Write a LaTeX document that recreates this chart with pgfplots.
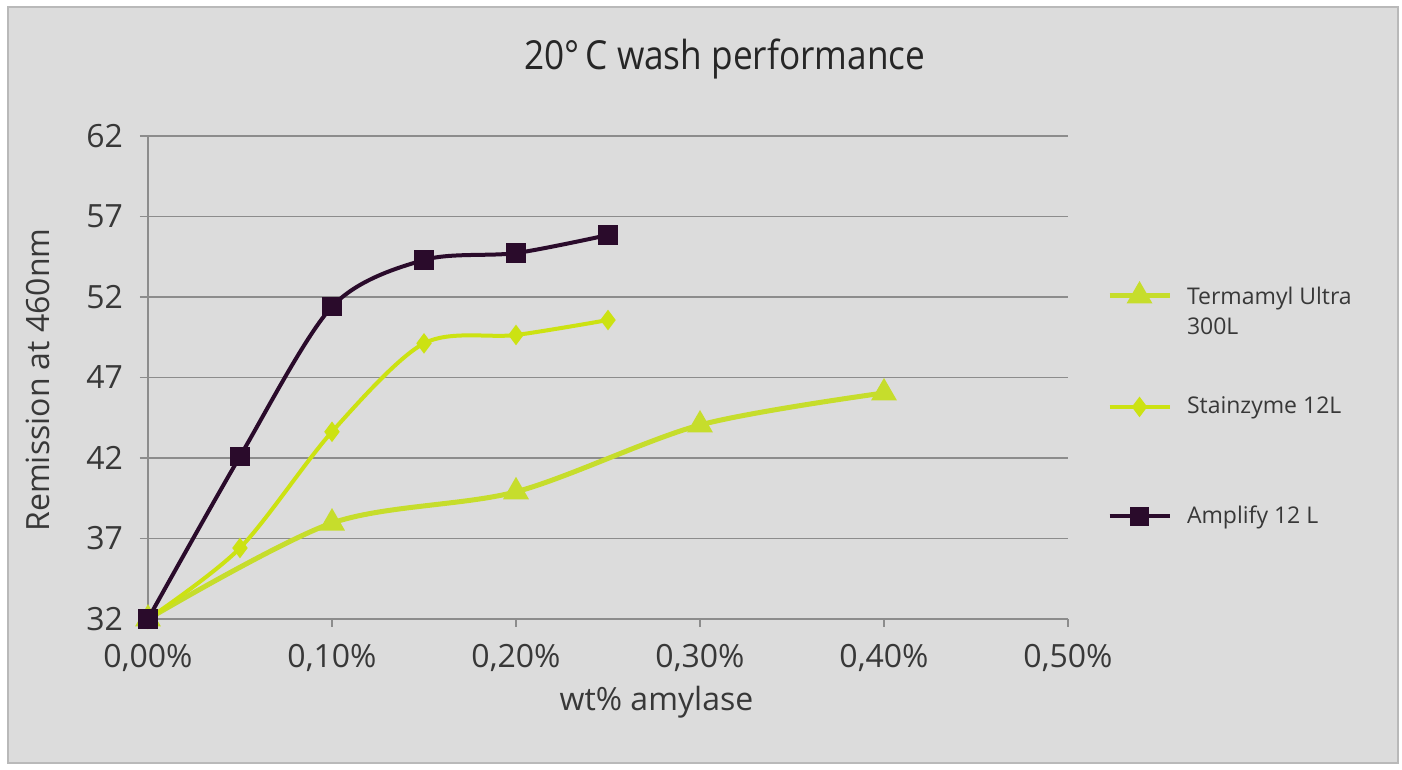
\documentclass[border=0pt]{standalone}
\usepackage{fontspec}
\setmainfont{Open Sans}
\usepackage{graphicx}
\usepackage{pgfplots}
\pgfplotsset{compat=1.18}
\definecolor{bg}{HTML}{DCDCDC}
\definecolor{gridc}{HTML}{8C8C8C}
\definecolor{txt}{HTML}{383838}
\definecolor{termc}{HTML}{C6DD2C}
\definecolor{stainc}{HTML}{CCE212}
\definecolor{amplc}{HTML}{2A0B2B}
\begin{document}
\begin{tikzpicture}
\fill[white] (-74pt,-75.5pt) rectangle (627pt,309.5pt);
\draw[fill=bg, draw=gray!55, line width=0.8pt] (-70pt,-72pt) rectangle (625pt,306pt);
\begin{axis}[
  at={(0pt,0pt)}, anchor=south west,
  scale only axis, width=460pt, height=241.5pt,
  xmin=0, xmax=0.5, ymin=32, ymax=62,
  xtick={0,0.1,0.2,0.3,0.4,0.5},
  xticklabels={{0,00\%},{0,10\%},{0,20\%},{0,30\%},{0,40\%},{0,50\%}},
  ytick={32,37,42,47,52,57,62},
  axis x line=bottom, axis y line=left,
  axis line style={-, gridc, line width=0.8pt},
  ymajorgrids, grid style={gridc, line width=0.8pt},
  tick align=outside, major tick length=4pt,
  tick style={gridc, line width=0.8pt},
  xtick pos=bottom, ytick pos=left,
  /pgf/number format/assume math mode=true,
  ticklabel style={font=\fontsize{16}{19}\selectfont, text=txt},
  xticklabel shift=5pt, yticklabel shift=5pt,
  label style={font=\fontsize{16}{19}\selectfont, text=txt},
  xlabel={wt\% amylase},
  xlabel style={at={(axis description cs:0.5527,0)}, anchor=base, yshift=-45.5pt},
  ylabel={Remission at 460nm},
  ylabel style={at={(axis description cs:0,0.495)}, anchor=base, yshift=49pt},
  title={\scalebox{0.88}[1]{\fontsize{20}{24}\selectfont 20°\,C wash performance}},
  title style={at={(axis description cs:0.627,1)}, anchor=base, yshift=27pt, text=black!85},
  legend cell align=left,
  legend style={draw=none, fill=none, at={(1.0424,0.6936)}, anchor=north west,
    inner sep=0pt, outer sep=0pt, row sep=44.5pt,
    font=\fontsize{11.5}{15}\selectfont, text=txt,
    nodes={inner sep=0pt},
    /tikz/every odd column/.append style={column sep=7.5pt}},
  legend image code/.code={\draw[mark repeat=2,mark phase=2] plot coordinates {(0pt,0pt)(15pt,0pt)(30pt,0pt)};},
]
\addplot[color=termc, line width=2.5pt, smooth, mark=triangle*, mark size=5pt, mark options={solid}]
  coordinates {(0,32.0)(0.1,37.96)(0.2,39.9)(0.3,44.05)(0.4,46.04)};
\addlegendentry{\begin{tabular}[t]{@{}l@{}}Termamyl Ultra\\300L\end{tabular}}
\addplot[color=stainc, line width=2pt, smooth, mark=diamond*, mark size=3.5pt, mark options={solid}]
  coordinates {(0,32.0)(0.05,36.41)(0.1,43.63)(0.15,49.12)(0.2,49.64)(0.25,50.57)};
\addlegendentry{Stainzyme 12L}
\addplot[color=amplc, line width=2pt, smooth, mark=square*, mark size=3.8pt, mark options={solid}]
  coordinates {(0,32.0)(0.05,42.1)(0.1,51.4)(0.15,54.3)(0.2,54.73)(0.25,55.85)};
\addlegendentry{Amplify 12 L}
\end{axis}
\end{tikzpicture}
\end{document}
